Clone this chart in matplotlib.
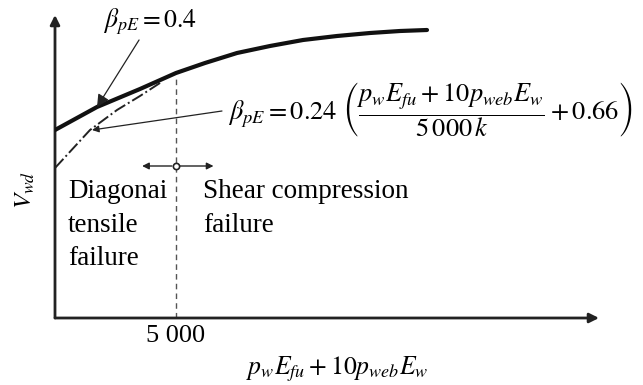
import matplotlib.pyplot as plt

plt.rcParams['font.family'] = ['Liberation Serif', 'DejaVu Serif']
plt.rcParams['mathtext.fontset'] = 'stix'

# values
# x: p_w E_fu + 10 p_web E_w, y: V_wd in arbitrary units
solid_x = [0, 1736, 3512, 5000, 6198, 7521, 8884, 10248, 11653, 13017, 14256, 15372]
solid_y = [188, 211, 229, 245, 255, 265, 272, 278, 282, 285, 287, 288]
dashdot_x = [0, 1446, 2562, 3512, 4400]
dashdot_y = [150, 188, 208, 222, 236]
boundary_x = 5000
tick_labels = ['5 000']

fig = plt.figure(figsize=(6.43, 3.85), dpi=100)
ax = fig.add_axes([55 / 643, 67 / 385, 544 / 643, 303 / 385])
ax.set_xlim(0, 22480)
ax.set_ylim(0, 303)
for s in ax.spines.values():
    s.set_visible(False)

# axis arrows
arr = dict(arrowstyle='-|>', lw=2, color='#222', mutation_scale=14, shrinkA=0, shrinkB=0)
ax.annotate('', xy=(1, 0), xytext=(0, 0), xycoords='axes fraction', arrowprops=arr)
ax.annotate('', xy=(0, 1), xytext=(0, 0), xycoords='axes fraction', arrowprops=arr)

ax.set_xticks([boundary_x])
ax.set_xticklabels(tick_labels, fontsize=19)
ax.tick_params(axis='x', length=0, pad=5)
ax.set_yticks([])

# curves
ax.plot(solid_x, solid_y, color='#111', lw=3, solid_capstyle='round', zorder=3)
ax.plot(dashdot_x, dashdot_y, color='#222', lw=1.4, ls='-.', zorder=2)
ax.plot([boundary_x, boundary_x], [0, 243], color='#555', lw=1, ls=(0, (4, 3)))

# failure mode arrows
ax.annotate('', xy=(3600, 152), xytext=(boundary_x, 152),
            arrowprops=dict(arrowstyle='-|>', lw=1, color='#222', shrinkA=3, shrinkB=0))
ax.annotate('', xy=(6550, 152), xytext=(boundary_x, 152),
            arrowprops=dict(arrowstyle='-|>', lw=1, color='#222', shrinkA=3, shrinkB=0))
ax.plot([boundary_x], [152], 'o', ms=4.5, mfc='white', mec='#222', mew=1.2, zorder=4)

# labels
thin = dict(arrowstyle='-|>', lw=0.9, color='#222', shrinkA=0, shrinkB=0)
ax.annotate(r'$\beta_{pE}=0.4$', xy=(1736, 211), xytext=(2000, 296),
            fontsize=18.5, va='center', ha='left', arrowprops=thin)
ax.annotate('', xy=(1530, 188), xytext=(6900, 207), arrowprops=thin)
ax.text(7150, 208,
        r'$\beta_{pE}=0.24\ \left(\dfrac{p_w E_{fu}+10p_{web}E_w}{5\,000\,k}+0.66\right)$',
        fontsize=19, va='center', ha='left')

ax.text(540, 139, 'Diagonai\ntensile\nfailure', fontsize=19.5, va='top',
        ha='left', linespacing=1.45)
ax.text(6120, 139, 'Shear compression\nfailure', fontsize=19.5, va='top',
        ha='left', linespacing=1.45)

fig.text(337 / 643, 1 - 369 / 385, r'$p_w E_{fu}+10p_{web}E_w$', fontsize=18.5,
         ha='center', va='center')
fig.text(25 / 643, 1 - 190 / 385, r'$V_{wd}$', fontsize=18, rotation=90,
         ha='center', va='center')

fig.savefig('out.png', dpi=100)
